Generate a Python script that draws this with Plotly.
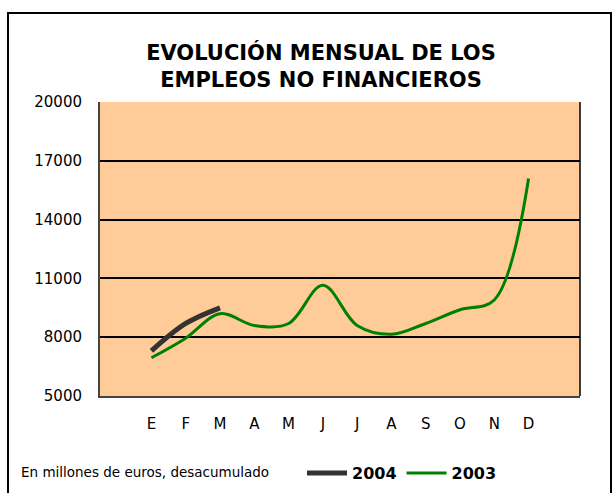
import plotly.graph_objects as go

months = ["E", "F", "M", "A", "M ", "J", "J ", "A ", "S", "O", "N", "D"]
tick_labels = ["E", "F", "M", "A", "M", "J", "J", "A", "S", "O", "N", "D"]
values_2004 = [7300, 8700, 9500]
values_2003 = [6950, 7950, 9200, 8600, 8700, 10650, 8600, 8150, 8700, 9400, 9900, 16100]

FONT = "DejaVu Sans"

fig = go.Figure()
fig.add_trace(go.Scatter(
    x=months[:len(values_2004)], y=values_2004, name="2004", mode="lines",
    line=dict(color="#333333", width=5, shape="spline", smoothing=1.0),
))
fig.add_trace(go.Scatter(
    x=months, y=values_2003, name="2003", mode="lines",
    line=dict(color="#008000", width=3, shape="spline", smoothing=1.0),
))

L, R, T, B = 100, 36, 102, 97
W, H = 616, 493
pw, ph = W - L - R, H - T - B

def px(x):
    return (x - L) / pw

def py(y):
    return (H - B - y) / ph

fig.update_layout(
    width=W, height=H,
    margin=dict(l=L, r=R, t=T, b=B, autoexpand=False),
    paper_bgcolor="white",
    plot_bgcolor="#FFCC99",
    font=dict(family=FONT, color="black"),
    title=dict(
        text="<b>EVOLUCIÓN MENSUAL DE LOS<br>EMPLEOS NO FINANCIEROS</b>",
        xref="container", yref="container",
        x=321 / W, xanchor="center", y=1 - 60 / H, yanchor="middle",
        font=dict(family=FONT, size=21, color="black"),
    ),
    showlegend=True,
    legend=dict(
        orientation="h", x=px(302), xanchor="left", y=py(473), yanchor="middle",
        font=dict(family=FONT, size=16, color="black", weight="bold"),
        bgcolor="rgba(0,0,0,0)", itemwidth=40, tracegroupgap=0,
    ),
    xaxis=dict(
        categoryorder="array", categoryarray=months,
        tickvals=months, ticktext=tick_labels,
        range=[-1.5, 12.5], showgrid=False, zeroline=False,
        ticks="outside", ticklen=13, tickcolor="rgba(0,0,0,0)",
        tickfont=dict(family=FONT, size=15, color="black"),
        showline=True, linecolor="#444444", linewidth=2, mirror=False,
    ),
    yaxis=dict(
        range=[5000, 20000], tickvals=[5000, 8000, 11000, 14000, 17000, 20000],
        tickformat="d",
        showgrid=True, gridcolor="black", gridwidth=1.5, zeroline=False,
        ticks="outside", ticklen=13, tickcolor="rgba(0,0,0,0)",
        tickfont=dict(family=FONT, size=15, color="black"),
        showline=True, linecolor="#444444", linewidth=2, mirror=False,
    ),
    shapes=[
        dict(type="line", xref="paper", yref="paper", x0=1, x1=1, y0=0, y1=1,
             line=dict(color="black", width=1.5)),
        dict(type="rect", xref="paper", yref="paper",
             x0=px(8), x1=px(611), y0=py(13), y1=py(500),
             line=dict(color="black", width=2), fillcolor="rgba(0,0,0,0)", layer="below"),
    ],
    annotations=[
        dict(text="En millones de euros, desacumulado", xref="paper", yref="paper",
             x=px(19), y=py(472), xanchor="left", yanchor="middle", showarrow=False,
             font=dict(family=FONT, size=13.5, color="black")),
    ],
)

fig.write_html(
    "out.html",
    config={"displayModeBar": False},
    post_script="document.body.style.margin='0';document.body.style.overflow='hidden';",
)
